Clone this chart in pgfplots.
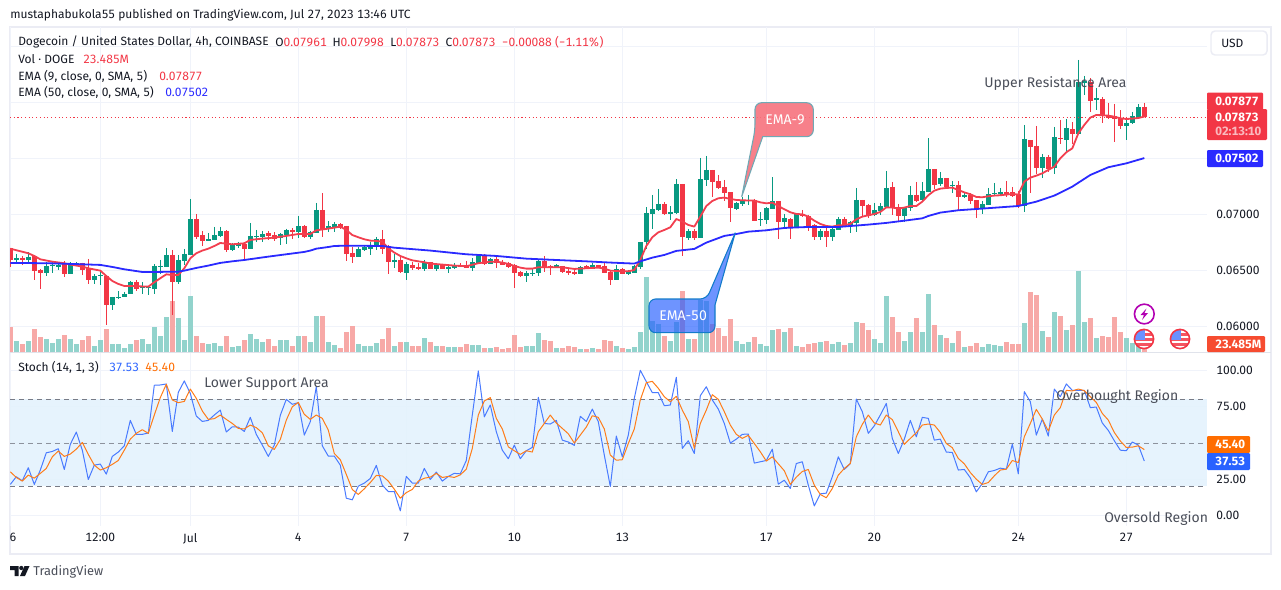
\documentclass[border=0pt]{standalone}
\usepackage{fontspec}
\setmainfont[Numbers={Monospaced,Lining}]{Fira Sans}
\usepackage{pgfplots}
\usepackage{pgfplotstable}
\pgfplotsset{compat=1.18}

\definecolor{tvgreen}{HTML}{089981}
\definecolor{tvred}{HTML}{F23645}
\definecolor{volgreen}{HTML}{92D3CC}
\definecolor{volred}{HTML}{F7A9A7}
\definecolor{emablue}{HTML}{2A2AFF}
\definecolor{emared}{HTML}{F23F4F}
\definecolor{stochblue}{HTML}{2962FF}
\definecolor{stochorange}{HTML}{FF6D00}
\definecolor{gridc}{HTML}{F0F3FA}
\definecolor{framec}{HTML}{EBECF4}
\definecolor{sepc}{HTML}{E0E3EB}
\definecolor{bandc}{HTML}{E3F2FD}
\definecolor{dashc}{HTML}{787B86}
\definecolor{inkc}{HTML}{131722}
\definecolor{notec}{HTML}{4A4E59}
\definecolor{calloutc}{HTML}{6FA9B5}

% k open high low close volume(M), rising bars
\pgfplotstableread{
k o h l c v
1 .06595 .06646 .06554 .06610 68
3 .06592 .06661 .06557 .06622 68
6 .06476 .06577 .06449 .06539 80
7 .06536 .06572 .06476 .06545 56
8 .06533 .06577 .06503 .06551 80
10 .06467 .06572 .06467 .06557 80
11 .06551 .06575 .06542 .06563 50
14 .06414 .06467 .06378 .06449 38
15 .06449 .06488 .06369 .06455 74
17 .06190 .06262 .06146 .06262 50
18 .06250 .06315 .06244 .06262 50
19 .06262 .06309 .06262 .06289 26
20 .06289 .06402 .06289 .06396 50
22 .06342 .06396 .06289 .06351 80
23 .06342 .06360 .06280 .06348 50
24 .06336 .06557 .06289 .06539 152
25 .06530 .06592 .06467 .06539 98
26 .06530 .06699 .06527 .06637 212
28 .06396 .06637 .06378 .06592 206
29 .06583 .06691 .06548 .06646 74
30 .06637 .07137 .06637 .06958 338
33 .06762 .06833 .06762 .06780 50
34 .06771 .06887 .06771 .06815 56
35 .06807 .06887 .06801 .06851 38
37 .06682 .06744 .06676 .06726 32
38 .06717 .06753 .06699 .06735 38
40 .06691 .06923 .06691 .06807 110
41 .06798 .06860 .06753 .06807 80
42 .06798 .06851 .06753 .06824 62
45 .06789 .06833 .06726 .06824 74
46 .06812 .06872 .06735 .06860 74
48 .06842 .06985 .06789 .06896 98
50 .06798 .06851 .06777 .06839 62
51 .06833 .07101 .06833 .07039 218
53 .06869 .06940 .06845 .06896 62
54 .06884 .06932 .06845 .06914 44
58 .06619 .06708 .06619 .06691 50
59 .06682 .06726 .06673 .06705 38
60 .06691 .06753 .06637 .06723 38
61 .06717 .06798 .06682 .06780 56
64 .06575 .06646 .06521 .06592 38
66 .06476 .06575 .06414 .06557 62
69 .06509 .06592 .06494 .06566 86
71 .06512 .06566 .06494 .06548 38
73 .06515 .06548 .06476 .06530 32
74 .06521 .06566 .06512 .06542 32
77 .06521 .06610 .06494 .06575 44
78 .06566 .06637 .06563 .06628 44
80 .06557 .06610 .06557 .06601 26
86 .06449 .06494 .06396 .06476 38
87 .06467 .06512 .06449 .06476 38
88 .06476 .06601 .06449 .06583 116
91 .06527 .06557 .06521 .06545 26
95 .06467 .06539 .06467 .06530 20
97 .06515 .06566 .06512 .06548 26
101 .06414 .06548 .06414 .06512 38
103 .06467 .06503 .06458 .06491 20
104 .06476 .06548 .06473 .06539 32
105 .06530 .06753 .06512 .06753 122
106 .06753 .07065 .06691 .07012 452
107 .07003 .07173 .06869 .07048 190
108 .07039 .07226 .07030 .07092 174
110 .07003 .07074 .06949 .07021 68
111 .07012 .07315 .07003 .07271 184
113 .06789 .06869 .06771 .06851 80
115 .06789 .07503 .06789 .07315 314
116 .07307 .07521 .07253 .07396 308
121 .07051 .07110 .07039 .07104 68
122 .07092 .07155 .07074 .07128 50
123 .07116 .07173 .07083 .07128 62
125 .06946 .07021 .06896 .06958 50
126 .06949 .07062 .06914 .07057 38
127 .07048 .07333 .07048 .07119 134
129 .06932 .07003 .06869 .06967 122
131 .06887 .07012 .06887 .07003 38
135 .06798 .06869 .06771 .06851 62
137 .06798 .06887 .06762 .06869 50
138 .06860 .06976 .06860 .06958 62
140 .06896 .06940 .06833 .06932 56
141 .06923 .07235 .06842 .07128 182
144 .06994 .07101 .06988 .07039 80
145 .07030 .07101 .06994 .07074 56
146 .07065 .07387 .07065 .07235 338
149 .06985 .07065 .06935 .07065 68
150 .07057 .07253 .07030 .07173 122
152 .07128 .07289 .07122 .07208 122
153 .07199 .07681 .07199 .07405 350
155 .07271 .07378 .07253 .07324 104
157 .07253 .07298 .07190 .07262 56
159 .07155 .07190 .07146 .07173 32
162 .07048 .07119 .07003 .07092 32
163 .07083 .07235 .07083 .07182 50
164 .07182 .07280 .07164 .07190 44
165 .07182 .07235 .07164 .07199 38
169 .07074 .07798 .07021 .07673 176
172 .07414 .07539 .07324 .07512 128
174 .07414 .07780 .07360 .07690 242
176 .07664 .07851 .07565 .07771 134
178 .07717 .08378 .07717 .08181 488
179 .08173 .08235 .08065 .08187 182
181 .08021 .08128 .07931 .08036 86
186 .07789 .07860 .07664 .07815 86
187 .07812 .07914 .07806 .07878 56
188 .07860 .07985 .07851 .07958 50
}\upbars

% falling bars
\pgfplotstableread{
k o h l c v
0 .06696 .06696 .06533 .06592 152
2 .06613 .06628 .06551 .06595 50
4 .06628 .06628 .06414 .06497 140
5 .06503 .06512 .06333 .06476 92
9 .06560 .06580 .06443 .06467 104
12 .06563 .06569 .06458 .06503 74
13 .06521 .06601 .06378 .06417 98
16 .06449 .06449 .06012 .06190 140
21 .06396 .06411 .06315 .06336 74
27 .06637 .06682 .06101 .06396 308
31 .06958 .07003 .06783 .06798 98
32 .06815 .06851 .06717 .06762 56
36 .06851 .06857 .06664 .06682 98
39 .06735 .06753 .06592 .06691 74
43 .06833 .06851 .06771 .06807 80
44 .06815 .06839 .06762 .06780 38
47 .06860 .06878 .06780 .06842 38
49 .06896 .06902 .06789 .06798 98
52 .07039 .07190 .06798 .06869 218
55 .06914 .06920 .06872 .06878 26
56 .06896 .06896 .06583 .06646 122
57 .06655 .06708 .06566 .06619 158
62 .06780 .06860 .06646 .06691 80
63 .06717 .06726 .06467 .06575 146
65 .06592 .06619 .06476 .06485 62
67 .06548 .06575 .06503 .06518 38
68 .06530 .06566 .06503 .06509 38
70 .06575 .06575 .06512 .06512 62
72 .06554 .06557 .06509 .06512 38
75 .06545 .06563 .06527 .06533 32
76 .06548 .06583 .06521 .06521 50
79 .06628 .06646 .06548 .06557 26
81 .06601 .06619 .06521 .06566 32
82 .06575 .06592 .06545 .06548 20
83 .06566 .06575 .06521 .06530 26
84 .06548 .06557 .06342 .06476 104
85 .06485 .06494 .06440 .06449 32
89 .06583 .06628 .06485 .06524 74
90 .06542 .06548 .06458 .06536 68
92 .06539 .06539 .06473 .06485 26
93 .06494 .06512 .06458 .06476 38
94 .06485 .06503 .06458 .06467 32
96 .06539 .06548 .06509 .06512 20
98 .06548 .06548 .06521 .06521 20
99 .06539 .06575 .06476 .06476 74
100 .06488 .06494 .06369 .06414 68
102 .06512 .06521 .06464 .06467 26
109 .07092 .07110 .06994 .07003 98
112 .07271 .07271 .06628 .06798 368
114 .06851 .06869 .06771 .06789 80
117 .07396 .07396 .07155 .07289 174
118 .07298 .07351 .07226 .07235 146
119 .07244 .07307 .07116 .07190 98
120 .07199 .07199 .06932 .07057 200
124 .07128 .07137 .06940 .06940 92
128 .07119 .07119 .06780 .06932 140
130 .06958 .06967 .06780 .06887 146
132 .07003 .07039 .06979 .06985 32
133 .06985 .06994 .06851 .06896 50
134 .06905 .06914 .06768 .06798 56
136 .06851 .06887 .06708 .06798 68
139 .06958 .06976 .06887 .06896 44
142 .07128 .07128 .06985 .07074 176
143 .07083 .07092 .06967 .06985 134
147 .07244 .07289 .06994 .07057 212
148 .07065 .07092 .06940 .06985 122
151 .07173 .07289 .07110 .07119 206
154 .07405 .07405 .07226 .07262 164
156 .07324 .07324 .07235 .07244 86
158 .07262 .07298 .07030 .07155 128
160 .07173 .07190 .07092 .07119 38
161 .07128 .07128 .06967 .07048 56
166 .07199 .07298 .07155 .07179 62
167 .07199 .07244 .07155 .07164 50
168 .07182 .07208 .07057 .07074 50
170 .07664 .07664 .07190 .07601 362
171 .07610 .07789 .07360 .07414 344
173 .07512 .07530 .07378 .07405 92
175 .07681 .07842 .07628 .07673 218
177 .07762 .07824 .07628 .07717 164
180 .08181 .08217 .07914 .08012 206
182 .08030 .08048 .07815 .07878 98
183 .07884 .07994 .07851 .07860 92
184 .07878 .07985 .07646 .07851 212
185 .07860 .07931 .07762 .07789 122
189 .07961 .07998 .07865 .07865 23.485
}\downbars

\pgfplotstableread{
k p
0 .06693
3 .06652
4 .06628
5 .06598
7 .06577
9 .06563
10 .06551
12 .06533
13 .06518
15 .06497
16 .06449
17 .06405
18 .06378
19 .06360
20 .06360
23 .06354
24 .06393
25 .06429
26 .06464
27 .06458
28 .06458
29 .06518
30 .06607
31 .06652
32 .06676
33 .06693
34 .06717
35 .06744
36 .06738
37 .06732
39 .06741
40 .06771
42 .06783
44 .06792
46 .06807
48 .06824
50 .06824
51 .06857
53 .06872
55 .06890
56 .06860
57 .06815
58 .06795
59 .06777
60 .06765
61 .06762
62 .06756
63 .06696
64 .06658
65 .06628
66 .06607
67 .06589
68 .06580
69 .06572
70 .06560
72 .06551
74 .06542
76 .06536
78 .06563
80 .06577
81 .06577
82 .06569
83 .06557
84 .06539
85 .06524
86 .06515
87 .06515
88 .06527
92 .06527
94 .06512
96 .06518
98 .06524
99 .06515
100 .06497
102 .06491
103 .06491
104 .06503
105 .06592
106 .06717
107 .06795
108 .06839
109 .06860
110 .06884
111 .06958
112 .06935
113 .06905
114 .06890
115 .06979
116 .07074
117 .07119
118 .07143
119 .07149
120 .07137
121 .07128
122 .07125
124 .07122
125 .07107
126 .07098
127 .07104
128 .07074
129 .07045
130 .07018
131 .07003
132 .07000
133 .06979
134 .06943
135 .06914
136 .06896
137 .06890
138 .06902
139 .06902
140 .06914
141 .06955
142 .06979
143 .06991
144 .07003
145 .07021
146 .07062
147 .07060
148 .07051
149 .07060
150 .07074
151 .07074
152 .07113
153 .07170
154 .07211
155 .07229
156 .07235
157 .07238
158 .07217
159 .07196
160 .07179
161 .07155
162 .07152
163 .07161
164 .07167
165 .07170
166 .07176
167 .07182
168 .07176
169 .07292
170 .07327
171 .07345
172 .07366
173 .07396
174 .07426
175 .07500
176 .07554
177 .07589
178 .07723
179 .07798
180 .07863
181 .07887
182 .07884
183 .07881
184 .07872
185 .07857
186 .07851
187 .07854
188 .07860
189 .07872
}\emanine

\pgfplotstableread{
k p
0 .06566
6 .06563
10 .06557
15 .06548
17 .06530
19 .06509
22 .06485
24 .06485
28 .06488
29 .06497
31 .06521
33 .06542
35 .06566
37 .06580
39 .06592
41 .06607
43 .06622
46 .06643
49 .06664
50 .06676
51 .06693
53 .06708
54 .06717
56 .06720
62 .06717
64 .06702
70 .06676
76 .06643
81 .06628
86 .06604
91 .06592
96 .06580
100 .06569
104 .06560
105 .06580
107 .06613
109 .06637
111 .06673
114 .06691
116 .06747
119 .06807
121 .06824
123 .06845
126 .06857
129 .06878
133 .06887
138 .06887
143 .06908
146 .06923
149 .06943
152 .06964
153 .06985
155 .07015
158 .07036
162 .07051
168 .07074
171 .07113
174 .07167
177 .07247
180 .07351
183 .07420
186 .07455
189 .07502
}\emafifty

% k %K %D
\pgfplotstableread{
k K D
0 21.4 30.1
1 26.7 26.2
2 23.9 23.7
3 32.9 27.8
4 21.4 25.7
5 31.3 29.0
6 43.2 32.4
7 44.1 40.4
8 46.0 44.4
9 31.7 40.7
10 49.0 42.3
11 57.5 45.7
12 45.0 50.3
13 24.8 42.1
14 34.7 34.7
15 35.4 31.3
16 28.5 32.9
17 40.7 35.2
18 43.7 37.9
19 48.0 45.0
20 65.5 52.6
21 55.9 56.6
22 55.9 59.1
23 56.8 56.6
24 89.7 69.2
25 89.9 81.2
26 90.6 90.4
27 57.9 79.6
28 84.8 77.7
29 92.7 78.6
30 84.1 87.1
31 68.5 80.7
32 64.8 72.0
33 65.5 66.2
34 69.2 66.7
35 72.6 69.2
36 57.5 66.2
37 61.1 63.4
38 60.9 60.0
39 57.9 59.6
40 67.6 62.3
41 55.9 60.5
42 48.5 57.0
43 40.7 48.0
44 48.5 45.5
45 69.0 52.4
46 80.0 65.7
47 76.6 74.9
48 77.7 77.9
49 55.4 69.7
50 64.6 66.2
51 88.7 69.2
52 48.0 66.9
53 40.9 58.8
54 40.9 42.7
55 34.7 38.4
56 11.9 28.3
57 10.8 17.9
58 20.2 14.5
59 22.3 18.4
60 25.5 22.7
61 34.5 27.6
62 20.9 27.3
63 16.5 23.7
64 16.5 18.1
65 3.2 11.9
66 26.9 15.8
67 22.3 17.9
68 22.3 23.7
69 32.4 25.7
70 24.8 26.4
71 29.9 29.0
72 23.7 26.2
73 26.9 26.9
74 29.0 26.2
75 28.7 28.0
76 37.9 31.9
77 69.2 46.2
78 99.6 69.2
79 68.0 78.9
80 76.1 81.2
81 57.7 66.9
82 45.0 59.6
83 39.1 47.3
84 48.5 44.6
85 39.1 42.1
86 44.6 44.6
87 46.9 43.7
88 81.4 57.7
89 63.4 63.4
90 63.0 69.2
91 65.5 63.7
92 51.9 60.0
93 50.6 56.3
94 48.3 49.9
95 68.3 55.4
96 64.8 60.9
97 73.3 68.7
98 64.6 67.6
99 41.6 59.6
100 20.0 41.6
101 54.7 38.1
102 40.4 38.4
103 55.4 49.6
104 80.7 59.6
105 100.0 79.6
106 92.2 91.5
107 84.6 92.4
108 84.6 87.6
109 75.6 81.8
110 76.1 78.4
111 95.2 82.1
112 46.2 72.6
113 51.5 64.6
114 42.7 46.2
115 82.5 63.4
116 88.7 72.6
117 79.6 83.2
118 73.3 80.0
119 63.4 71.5
120 49.9 62.3
121 52.6 55.9
122 55.9 53.1
123 56.1 55.2
124 36.1 49.6
125 37.0 43.9
126 37.9 37.5
127 45.7 40.4
128 21.6 35.6
129 24.3 30.8
130 18.6 21.4
131 35.8 26.4
132 37.0 30.3
133 20.9 31.7
134 6.6 20.9
135 14.9 14.5
136 15.4 12.2
137 26.7 18.6
138 40.4 27.8
139 31.7 32.4
140 35.8 35.8
141 80.2 54.2
142 71.5 62.8
143 56.6 69.2
144 61.8 63.7
145 69.2 62.3
146 77.2 69.2
147 53.1 66.0
148 42.7 57.7
149 52.6 49.0
150 65.5 53.1
151 54.2 57.0
152 67.6 62.3
153 66.9 63.0
154 51.9 62.3
155 52.6 57.2
156 43.7 49.6
157 43.4 46.7
158 31.3 39.3
159 31.7 35.6
160 26.0 29.6
161 16.3 25.0
162 22.0 21.4
163 30.1 22.7
164 31.0 27.3
165 32.6 31.3
166 31.9 31.9
167 49.2 37.9
168 28.7 36.5
169 85.3 54.2
170 78.4 63.4
171 55.4 73.1
172 66.4 66.4
173 54.7 58.2
174 87.1 69.2
175 81.8 74.3
176 90.6 86.2
177 86.2 85.8
178 86.2 87.1
179 86.2 86.0
180 74.3 81.8
181 74.7 77.9
182 63.7 70.3
183 58.6 65.7
184 51.5 57.2
185 45.0 51.3
186 44.6 46.9
187 50.6 47.1
188 48.5 48.0
189 37.5 45.4
}\stoch

\newcommand{\ts}{\fontsize{9}{11}\selectfont}
\newcommand{\ns}{\fontsize{10.5}{12}\selectfont}

\pgfplotsset{
  pagecs/.style={at={(0pt,0pt)}, anchor=south west, width=960.75pt, height=441.75pt,
    scale only axis, xmin=0, xmax=1281, ymin=0, ymax=589, y dir=reverse, hide axis, clip=false},
  pane/.style={anchor=south west, width=897.75pt, scale only axis,
    xmin=-0.05, xmax=199.45, major tick length=0pt, axis line style={draw=none},
    xtick={0,15,30,48,66,84,102,126,144,168,186}, scaled y ticks=false,
    /pgf/number format/assume math mode=true,
    grid style={line width=.75pt, gridc}, tick label style={font=\ts, color=inkc}},
  pricepane/.style={pane, at={(7.5pt,177.375pt)}, height=243.75pt, ymin=0.05766, ymax=0.08668},
  volpane/.style={pane, at={(7.5pt,177.375pt)}, height=243.75pt, ymin=0, ymax=1953, hide axis},
  stochpane/.style={pane, at={(7.5pt,47.25pt)}, height=129.75pt, ymin=-7.24, ymax=111.93},
  wick/.style={draw=none, mark=none, forget plot, error bars/.cd, y dir=minus, y explicit,
    error mark=none, error bar style={line width=.9pt, #1}},
  body/.style={draw=none, mark=none, forget plot, error bars/.cd, y dir=minus, y explicit,
    error mark=none, error bar style={line width=3.75pt, #1}},
}
\tikzset{
  tag/.style={fill=#1, draw=none, rounded corners=.8pt},
  tagtext/.style={font=\ts\bfseries, text=white, anchor=west, inner sep=0pt},
  txt/.style={font=\ts, text=inkc, anchor=west, inner sep=0pt},
  note/.style={font=\ns, text=notec, anchor=west, inner sep=0pt},
}

\newcommand{\usflag}[2]{%
  \begin{scope}
    \clip (axis cs:#1,#2) circle[radius=7pt];
    \fill[white] (axis cs:#1-11,#2-11) rectangle (axis cs:#1+11,#2+11);
    \fill[tvred!85] (axis cs:#1-11,#2-1) rectangle (axis cs:#1+11,#2+1.5);
    \fill[tvred!85] (axis cs:#1-11,#2+4) rectangle (axis cs:#1+11,#2+6.5);
    \fill[tvred!85] (axis cs:#1,#2-6) rectangle (axis cs:#1+11,#2-3.5);
    \fill[stochblue!70] (axis cs:#1-11,#2-11) rectangle (axis cs:#1+1,#2+1);
  \end{scope}
  \draw[tvred, line width=1.2pt] (axis cs:#1,#2) circle[radius=7.2pt];
}

\begin{document}
\begin{tikzpicture}
\path[use as bounding box] (0pt,0pt) rectangle (960.75pt,441.75pt);

% frame round the chart
\begin{axis}[pagecs]
  \draw[framec, line width=1.5pt] (axis cs:10,27) rectangle (axis cs:1271,554);
  \draw[sepc, line width=.75pt] (axis cs:10,352.6) -- (axis cs:1271,352.6);
\end{axis}

% price grid and scale
\begin{axis}[pricepane, xticklabels={}, ymajorgrids, xmajorgrids,
    ytick={0.06,0.065,0.07,0.075,0.08,0.085},
    yticklabel pos=right, yticklabels={0.06000,0.06500,0.07000,,,},
    y tick label style={anchor=west, xshift=3.5pt}]
\end{axis}

% volume under the candles
\begin{axis}[volpane, clip=true]
  \addplot[ycomb, mark=none, volgreen, line width=3.75pt] table[x=k, y=v] {\upbars};
  \addplot[ycomb, mark=none, volred, line width=3.75pt] table[x=k, y=v] {\downbars};
\end{axis}

% candles and averages
\begin{axis}[pricepane, hide axis]
  \addplot[wick=tvgreen] table[x=k, y=h, y error minus expr=\thisrow{h}-\thisrow{l}] {\upbars};
  \addplot[body=tvgreen] table[x=k, y=c, y error minus expr=\thisrow{c}-\thisrow{o}] {\upbars};
  \addplot[wick=tvred] table[x=k, y=h, y error minus expr=\thisrow{h}-\thisrow{l}] {\downbars};
  \addplot[body=tvred] table[x=k, y=o, y error minus expr=\thisrow{o}-\thisrow{c}] {\downbars};
  \addplot[tvred, line width=.8pt, dash pattern=on .8pt off 2pt] coordinates {(-0.05,0.07865) (199.45,0.07865)};
  \addplot[emared, line width=1.35pt, line join=round] table[x=k, y=p] {\emanine};
  \addplot[emablue, line width=1.35pt, line join=round] table[x=k, y=p] {\emafifty};
\end{axis}

% stochastic pane
\begin{axis}[stochpane, ymajorgrids, xmajorgrids,
    ytick={0,25,50,75,100},
    yticklabel pos=right, yticklabels={0.00,25.00,,75.00,100.00},
    y tick label style={anchor=west, xshift=3.5pt},
    xticklabels={\hspace*{4pt}6,12:00,Jul,4,7,10,13,17,20,24,27},
    x tick label style={yshift=-1.8pt}, axis on top=false]
  \addplot[draw=none, fill=bandc, fill opacity=.9] coordinates {(-0.05,20) (199.45,20) (199.45,80) (-0.05,80)} -- cycle;
  \addplot[dashc, line width=.75pt, dash pattern=on 3.75pt off 3pt] coordinates {(-0.05,80) (199.45,80)};
  \addplot[dashc, line width=.6pt, opacity=.8, dash pattern=on 3.75pt off 3pt] coordinates {(-0.05,50) (199.45,50)};
  \addplot[dashc, line width=.75pt, dash pattern=on 3.75pt off 3pt] coordinates {(-0.05,20) (199.45,20)};
  \addplot[stochblue!85, line width=.75pt, line join=round] table[x=k, y=K] {\stoch};
  \addplot[stochorange!90, line width=.75pt, line join=round] table[x=k, y=D] {\stoch};
\end{axis}

% texts, price tags, callouts, icons
\begin{axis}[pagecs]
  \node[txt] at (axis cs:10,15) {mustaphabukola55 published on TradingView.com, Jul 27, 2023 13:46 UTC};
  \node[txt] at (axis cs:18,42) {Dogecoin / United States Dollar, 4h, COINBASE};
  \node[txt] at (axis cs:275,42) {O\textcolor{tvred}{0.07961}};
  \node[txt] at (axis cs:332.3,42) {H\textcolor{tvred}{0.07998}};
  \node[txt] at (axis cs:390,42) {L\textcolor{tvred}{0.07873}};
  \node[txt] at (axis cs:445.3,42) {C\textcolor{tvred}{0.07873}};
  \node[txt, text=tvred] at (axis cs:501.7,42) {−0.00088 (−1.11\%)};
  \node[txt] at (axis cs:18,59) {Vol · DOGE};
  \node[txt, text=tvred] at (axis cs:83,59) {23.485M};
  \node[txt] at (axis cs:18,76) {EMA (9, close, 0, SMA, 5)};
  \node[txt, text=tvred] at (axis cs:159,76) {0.07877};
  \node[txt] at (axis cs:18,92.5) {EMA (50, close, 0, SMA, 5)};
  \node[txt, text=emablue] at (axis cs:165,92.5) {0.07502};
  \node[txt] at (axis cs:18,367.5) {Stoch (14, 1, 3)};
  \node[txt, text=stochblue] at (axis cs:109,367.5) {37.53};
  \node[txt, text=stochorange] at (axis cs:145,367.5) {45.40};

  \node[note] at (axis cs:984,83.5) {Upper Resistance Area};
  \node[note] at (axis cs:204,384.5) {Lower Support Area};
  \node[note] at (axis cs:1056,396.5) {Overbought Region};
  \node[note] at (axis cs:1104,518.5) {Oversold Region};

  \filldraw[fill=tvred!70!white, draw=calloutc, fill opacity=.9, line width=.8pt]
    (axis cs:755,130) [sharp corners]-- (axis cs:741.7,196.7) -- (axis cs:762.7,136.7)
    [rounded corners=5pt]-- (axis cs:813.3,136.7) -- (axis cs:813.3,102.7) -- (axis cs:755,102.7) -- cycle;
  \node[note, text=white] at (axis cs:765,119.5) {EMA-9};
  \filldraw[fill=stochblue, draw=cyan!60!blue, fill opacity=.68, line width=.8pt]
    (axis cs:706.7,299) [sharp corners]-- (axis cs:735.3,232.7) -- (axis cs:715,305)
    [rounded corners=5pt]-- (axis cs:715,332.7) -- (axis cs:649,332.7) -- (axis cs:649,299) -- cycle;
  \node[note, text=white] at (axis cs:659,315.5) {EMA-50};

  \filldraw[fill=white, draw=framec, line width=1.1pt, rounded corners=3pt] (axis cs:1211,31) rectangle (axis cs:1267,55);
  \node[txt] at (axis cs:1221,43) {USD};

  \fill[tag=tvred] (axis cs:1207,92.5) rectangle (axis cs:1263,110);
  \node[tagtext] at (axis cs:1215,101) {0.07877};
  \fill[tag=tvred] (axis cs:1207,109) rectangle (axis cs:1267,140);
  \node[tagtext] at (axis cs:1215,117.5) {0.07873};
  \node[tagtext, text=white!65!tvred] at (axis cs:1215,131.5) {02:13:10};
  \fill[tag=emablue] (axis cs:1207,150) rectangle (axis cs:1263,167);
  \node[tagtext] at (axis cs:1215,158.5) {0.07502};
  \fill[tag={tvred!70!orange}] (axis cs:1207,336) rectangle (axis cs:1265,352);
  \node[tagtext] at (axis cs:1215,344.5) {23.485M};
  \fill[tag=stochorange] (axis cs:1207,436) rectangle (axis cs:1250,453);
  \node[tagtext] at (axis cs:1215,444.5) {45.40};
  \fill[tag=stochblue] (axis cs:1207,453) rectangle (axis cs:1250,470);
  \node[tagtext] at (axis cs:1215,461.5) {37.53};

  \draw[violet!60!magenta, line width=1.2pt, fill=white] (axis cs:1144.3,314) circle[radius=7.4pt];
  \fill[violet!60!magenta] (axis cs:1146.5,308.5) -- (axis cs:1140.5,315) -- (axis cs:1144,315)
    -- (axis cs:1142,320) -- (axis cs:1148,313) -- (axis cs:1144.5,313) -- cycle;
  \usflag{1144}{339}
  \usflag{1180}{339}

  \fill[inkc] (axis cs:10,566) -- (axis cs:18.5,566) -- (axis cs:18.5,576) -- (axis cs:14.5,576)
    -- (axis cs:14.5,570) -- (axis cs:10,570) -- cycle;
  \fill[inkc] (axis cs:21.3,568) circle[radius=1.6pt];
  \fill[inkc] (axis cs:24.5,566) -- (axis cs:29.5,566) -- (axis cs:25,576) -- (axis cs:20,576) -- cycle;
  \node[txt, font=\fontsize{9.6}{12}\selectfont, text=notec] at (axis cs:33,571.5) {TradingView};
\end{axis}
\end{tikzpicture}
\end{document}
